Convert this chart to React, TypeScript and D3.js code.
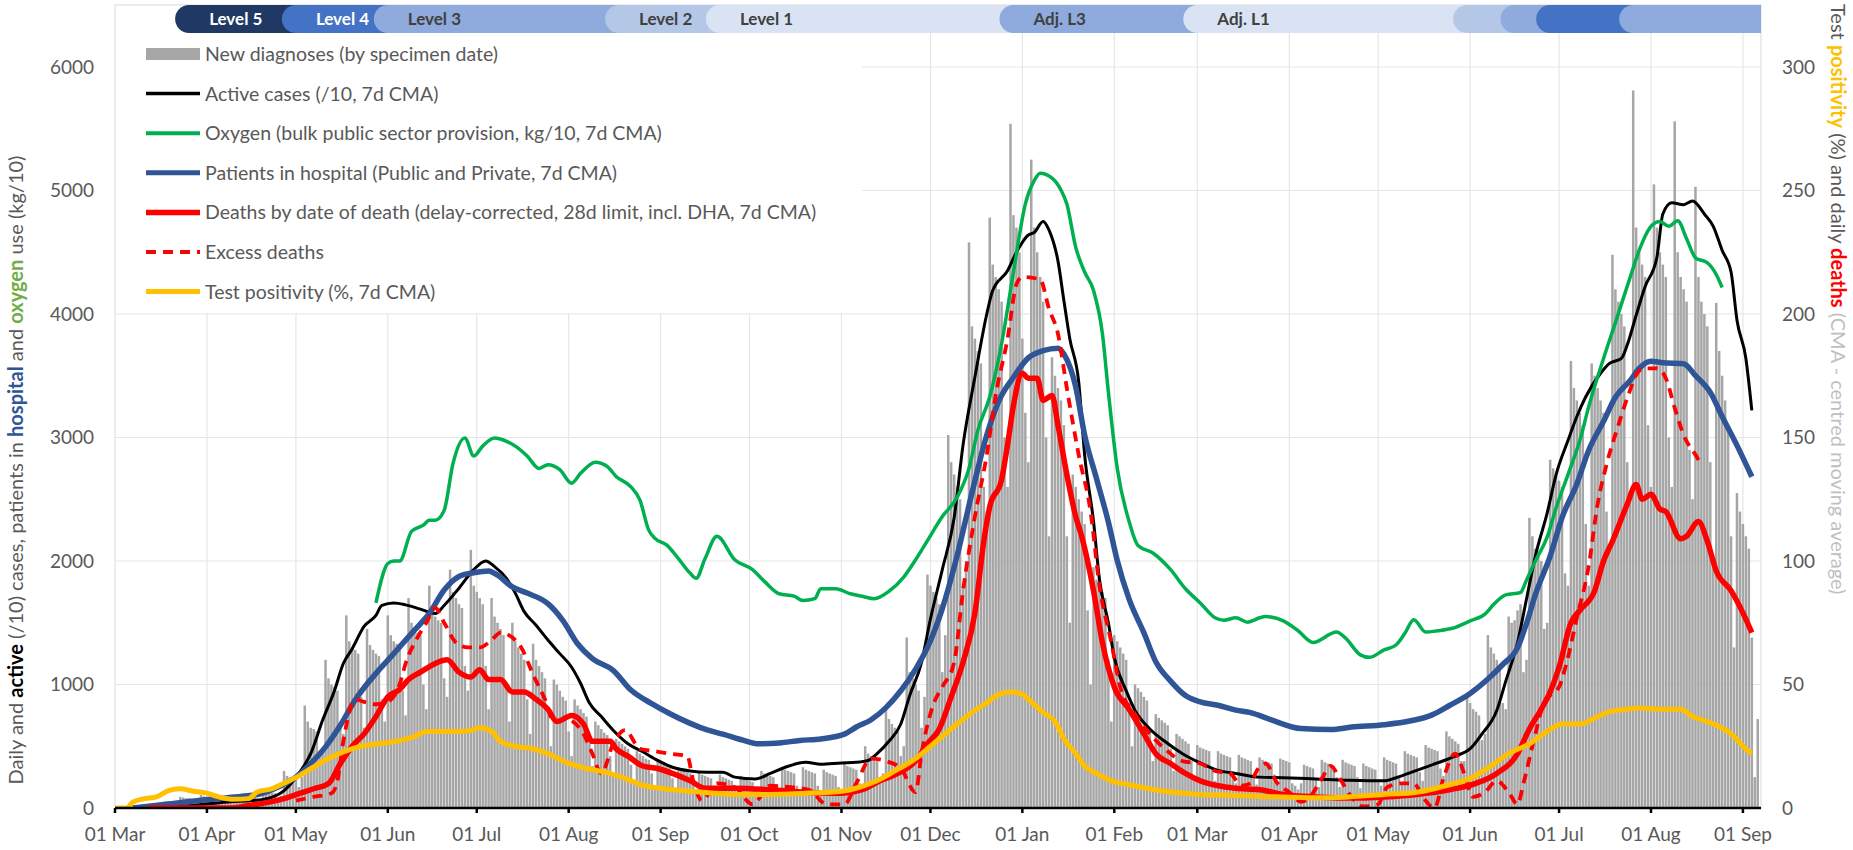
import React from "react";
import * as d3 from "d3";

// ---------- DATA ----------
// day index 0 = 2020-03-01
const START = Date.UTC(2020, 2, 1);
const DAY = 864e5;
const END_DAY = 555.1;

// New diagnoses by specimen date, one row per week (Sun..Sat), starting 2020-03-01
const casesWeeks: number[][] = [
  [0, 0, 0, 0, 2, 3, 6],
  [4, 12, 14, 16, 20, 24, 16],
  [15, 45, 50, 55, 55, 50, 35],
  [30, 90, 85, 80, 80, 75, 50],
  [40, 105, 95, 90, 85, 80, 55],
  [40, 95, 85, 80, 75, 70, 50],
  [50, 115, 100, 95, 95, 90, 60],
  [60, 150, 135, 130, 125, 120, 80],
  [100, 300, 260, 250, 250, 240, 170],
  [250, 830, 700, 650, 640, 620, 430],
  [450, 1200, 1050, 1000, 980, 950, 680],
  [600, 1560, 1350, 1300, 1280, 1250, 900],
  [650, 1450, 1320, 1280, 1250, 1230, 880],
  [700, 1560, 1400, 1350, 1330, 1300, 950],
  [750, 1700, 1500, 1450, 1420, 1400, 1000],
  [800, 1800, 1600, 1550, 1520, 1500, 1050],
  [900, 1930, 1750, 1700, 1650, 1620, 1150],
  [950, 2090, 1800, 1750, 1700, 1650, 1150],
  [800, 1700, 1550, 1500, 1450, 1400, 1000],
  [700, 1500, 1350, 1300, 1250, 1200, 880],
  [600, 1330, 1200, 1150, 1100, 1050, 780],
  [500, 1040, 1000, 950, 900, 870, 620],
  [420, 880, 830, 800, 770, 740, 530],
  [340, 700, 670, 640, 610, 590, 420],
  [270, 560, 540, 520, 500, 480, 350],
  [220, 460, 440, 420, 400, 390, 280],
  [180, 390, 370, 350, 340, 330, 240],
  [150, 330, 310, 300, 290, 280, 200],
  [120, 290, 270, 260, 250, 240, 170],
  [110, 270, 250, 240, 230, 220, 160],
  [100, 260, 240, 230, 220, 210, 150],
  [110, 300, 280, 270, 260, 250, 170],
  [120, 330, 310, 300, 290, 280, 180],
  [120, 330, 310, 300, 290, 280, 180],
  [110, 310, 290, 280, 270, 260, 170],
  [130, 360, 340, 330, 320, 310, 200],
  [170, 500, 440, 420, 400, 380, 250],
  [280, 800, 720, 680, 650, 620, 420],
  [500, 1380, 1100, 1050, 1000, 950, 650],
  [900, 1890, 1800, 1750, 1700, 1650, 1100],
  [1400, 3020, 2800, 2700, 2600, 2500, 1800],
  [2000, 4580, 3900, 3800, 3700, 3600, 2600],
  [2400, 4780, 4400, 4300, 4200, 4100, 3000],
  [2600, 5540, 4800, 4700, 4500, 3800, 3200],
  [2800, 5250, 4700, 4500, 4300, 4100, 3000],
  [2200, 3650, 3500, 3400, 3300, 3100, 2200],
  [1500, 2700, 2600, 2500, 2400, 2300, 1600],
  [1000, 1950, 1850, 1800, 1750, 1700, 1200],
  [700, 1400, 1350, 1300, 1250, 1200, 850],
  [500, 1000, 970, 940, 900, 870, 620],
  [380, 760, 730, 710, 690, 670, 480],
  [300, 600, 580, 560, 540, 520, 380],
  [250, 510, 490, 480, 470, 460, 330],
  [220, 460, 440, 430, 420, 410, 300],
  [200, 430, 410, 400, 390, 380, 280],
  [190, 410, 390, 380, 370, 360, 270],
  [190, 400, 390, 380, 370, 200, 180],
  [150, 200, 350, 340, 330, 320, 240],
  [170, 390, 370, 360, 350, 340, 250],
  [170, 390, 370, 360, 350, 340, 250],
  [160, 360, 340, 330, 320, 310, 230],
  [180, 410, 390, 380, 370, 360, 260],
  [200, 460, 440, 430, 420, 410, 290],
  [220, 510, 490, 480, 470, 460, 320],
  [260, 620, 580, 560, 540, 520, 380],
  [380, 900, 850, 800, 780, 750, 550],
  [600, 1400, 1300, 1250, 1200, 1150, 850],
  [800, 1550, 1500, 1520, 1600, 1650, 1100],
  [1200, 2350, 2200, 2100, 2050, 2000, 1450],
  [1500, 2820, 2750, 2700, 2650, 2600, 1900],
  [1800, 3620, 3400, 3300, 3200, 3100, 2300],
  [1800, 3600, 3500, 3400, 3300, 3200, 2400],
  [2100, 4480, 4200, 4100, 4000, 3900, 2800],
  [2500, 5810, 4700, 4500, 4400, 4300, 3100],
  [2600, 5050, 4700, 4500, 4400, 4300, 3000],
  [2600, 5560, 4500, 4300, 4200, 4100, 2900],
  [2500, 5030, 4300, 4100, 4000, 3900, 2800],
  [2000, 4090, 3700, 3500, 3300, 3100, 2200],
  [1300, 2550, 2400, 2300, 2200, 2100, 1380],
  [250, 720],
];

// [day index, value] — left axis units
const activePts: [number, number][] = [
  [8, 0], [20, 10], [30, 30], [39, 50], [46, 60], [52, 80], [57, 140], [62, 280], [66, 440], [70, 710], [74, 950], [77, 1170], [80, 1290], [84, 1470], [88, 1560], [90, 1640], [94, 1660], [98, 1645], [103, 1610], [108, 1575], [111, 1640], [116, 1780], [121, 1930], [125, 2000], [128, 1955], [132, 1860], [135, 1740], [138, 1590], [142, 1480], [146, 1360], [150, 1250], [154, 1140], [157, 1010], [160, 850], [164, 740], [168, 630], [173, 520], [178, 455], [183, 385], [188, 330], [194, 300], [200, 290], [205, 290], [209, 250], [216, 235], [221, 280], [226, 330], [233, 370], [238, 355], [245, 365], [250, 370], [254, 385], [257, 440], [261, 540], [265, 680], [268, 910], [272, 1180], [275, 1530], [279, 1930], [283, 2350], [286, 2940], [290, 3490], [294, 4000], [296, 4190], [301, 4350], [304, 4500], [308, 4640], [310, 4660], [313, 4750], [315, 4680], [318, 4430], [320, 4110], [322, 3800], [325, 3450], [327, 2860], [330, 2320], [332, 1850], [335, 1500], [337, 1220], [341, 950], [344, 790], [349, 640], [354, 540], [360, 440], [366, 365], [372, 305], [378, 280], [386, 250], [394, 245], [405, 235], [416, 225], [428, 220], [432, 245], [439, 305], [446, 365], [452, 420], [457, 480], [461, 600], [466, 790], [469, 1025], [473, 1340], [476, 1690], [479, 2040], [483, 2390], [486, 2700], [490, 2975], [493, 3170], [496, 3330], [501, 3520], [504, 3600], [508, 3640], [510, 3750], [513, 3990], [516, 4220], [520, 4460], [522, 4810], [525, 4900], [529, 4885], [532, 4915], [536, 4810], [539, 4710], [542, 4515], [545, 4340], [547, 3950], [550, 3640], [552, 3220],
];

const oxygenPts: [number, number][] = [
  [88, 1660], [92, 1980], [94, 2000], [96, 2000], [100, 2240], [104, 2290], [106, 2330], [108, 2330], [111, 2410], [114, 2790], [118, 2995], [121, 2850], [124, 2930], [128, 2995], [131, 2980], [135, 2930], [139, 2850], [143, 2750], [146, 2780], [150, 2740], [154, 2630], [157, 2710], [162, 2800], [166, 2765], [169, 2685], [174, 2600], [177, 2495], [180, 2250], [182, 2185], [186, 2130], [190, 2020], [194, 1900], [196, 1860], [199, 2020], [203, 2200], [209, 2010], [215, 1930], [219, 1835], [224, 1735], [229, 1715], [232, 1680], [236, 1695], [238, 1775], [243, 1775], [248, 1735], [252, 1715], [256, 1695], [261, 1755], [266, 1870], [270, 2010], [274, 2165], [279, 2360], [284, 2515], [288, 2750], [291, 3060], [295, 3330], [299, 3760], [303, 4340], [307, 4890], [310, 5080], [312, 5140], [316, 5100], [319, 5005], [321, 4890], [324, 4540], [327, 4340], [330, 4190], [333, 3840], [335, 3370], [338, 2750], [342, 2320], [345, 2125], [350, 2065], [356, 1930], [361, 1775], [366, 1660], [371, 1540], [374, 1520], [378, 1540], [382, 1505], [386, 1540], [388, 1550], [394, 1515], [399, 1435], [404, 1340], [412, 1425], [415, 1375], [420, 1240], [423, 1220], [428, 1280], [432, 1320], [435, 1415], [438, 1525], [442, 1425], [446, 1435], [451, 1455], [457, 1515], [462, 1570], [465, 1650], [469, 1725], [474, 1745], [476, 1845], [479, 2000], [483, 2195], [486, 2430], [490, 2700], [494, 2975], [497, 3250], [502, 3640], [506, 3930], [511, 4300], [514, 4515], [518, 4710], [521, 4750], [524, 4710], [527, 4755], [530, 4610], [533, 4455], [537, 4415], [540, 4320], [542, 4215],
];

const hospitalPts: [number, number][] = [
  [6, 0], [19, 35], [32, 70], [43, 95], [49, 115], [55, 170], [61, 250], [66, 360], [71, 495], [76, 670], [81, 875], [88, 1090], [94, 1250], [101, 1440], [106, 1575], [111, 1765], [116, 1875], [121, 1905], [126, 1920], [129, 1885], [134, 1790], [139, 1740], [146, 1655], [151, 1520], [156, 1330], [161, 1210], [168, 1115], [174, 955], [181, 845], [187, 765], [194, 685], [200, 630], [205, 598], [212, 547], [217, 520], [224, 527], [231, 547], [238, 559], [246, 598], [250, 656], [255, 715], [260, 813], [265, 949], [270, 1125], [274, 1300], [279, 1614], [284, 2043], [289, 2551], [294, 3020], [298, 3293], [303, 3488], [308, 3645], [313, 3703], [318, 3723], [320, 3676], [324, 3410], [327, 3020], [331, 2668], [335, 2316], [338, 2004], [342, 1691], [347, 1418], [351, 1184], [356, 1027], [361, 910], [366, 859], [372, 832], [378, 793], [383, 772], [390, 713], [400, 643], [410, 635], [417, 655], [428, 674], [437, 706], [444, 752], [450, 830], [457, 928], [463, 1045], [468, 1162], [473, 1298], [476, 1493], [479, 1727], [484, 2039], [488, 2351], [493, 2624], [497, 2897], [502, 3131], [506, 3326], [511, 3462], [514, 3559], [518, 3618], [522, 3606], [529, 3598], [533, 3501], [538, 3365], [542, 3170], [547, 2936], [552, 2682],
];

// right axis units (daily deaths)
const deathsPts: [number, number][] = [
  [11, 0], [39, 0], [45, 1], [52, 2.4], [57, 3.8], [62, 5.8], [67, 7.8], [72, 9.9], [76, 18], [80, 25], [84, 30], [88, 37], [92, 45], [96, 48], [99, 52], [103, 55], [108, 58.5], [112, 60], [116, 55], [120, 53], [123, 56], [126, 52], [130, 52], [134, 47], [138, 47], [142, 44], [146, 40], [149, 35], [154, 37.5], [158, 34], [161, 27], [167, 27], [169, 24], [173, 21], [178, 17], [183, 16], [188, 14], [194, 11], [199, 8], [204, 8], [209, 8], [221, 7.4], [233, 6.4], [245, 6], [252, 7.4], [258, 11], [264, 14], [270, 19], [274, 26], [278, 32], [282, 45], [286, 59], [290, 79], [293, 108], [295, 122], [299, 133], [301, 147], [303, 163], [306, 176], [308, 174], [311, 174], [313, 165], [316, 167], [318, 155], [321, 135], [324, 118], [326, 110], [330, 88], [333, 67], [337, 49], [342, 40], [347, 30], [351, 22], [356, 18], [361, 14], [366, 11], [372, 9], [378, 8], [386, 7.4], [394, 5.5], [405, 4.5], [417, 4], [428, 4.5], [439, 5.5], [450, 7.4], [459, 10], [466, 14], [473, 22], [477, 32], [481, 40], [484, 47], [487, 57], [491, 75], [494, 80], [499, 88], [502, 100], [505, 108], [510, 123], [513, 131], [515, 125], [518, 127], [521, 121], [523, 120], [528, 109], [530, 110], [534, 116], [537, 108], [540, 96], [545, 88], [549, 79], [552, 71],
];

const excessPts: [number, number][] = [
  [61, 3], [67, 4.5], [73, 6], [75, 11], [77, 27], [81, 44], [84, 43], [88, 42], [92, 43], [96, 50], [98, 58.5], [102, 69], [105, 75], [108, 81], [111, 75], [115, 67], [119, 65], [123, 65], [127, 68], [130, 71], [134, 69], [137, 65], [141, 54], [145, 44], [148, 35], [152, 36], [158, 30], [161, 22], [164, 14], [168, 26], [172, 31.5], [177, 24], [182, 23], [187, 22], [193, 21], [195, 11], [198, 3], [203, 10], [209, 8.4], [215, 1.5], [221, 9], [228, 8.4], [234, 7.4], [240, 1.5], [246, 1.5], [250, 10], [255, 20], [260, 19], [265, 16], [270, 6.4], [272, 22], [276, 42], [279, 49], [283, 59], [286, 88], [290, 118], [294, 143], [297, 167], [301, 190], [304, 212], [306, 215], [312, 214], [315, 202], [318, 192], [321, 170], [325, 143], [329, 120], [332, 90], [336, 67], [339, 49], [344, 38], [349, 30], [354, 24], [360, 19], [366, 18], [371, 15], [376, 14], [380, 9], [383, 10], [385, 15], [388, 18], [392, 10], [396, 6.4], [400, 2.5], [403, 4.5], [407, 12], [410, 17], [413, 12], [417, 4.5], [421, 0.6], [426, 1.5], [429, 8.4], [434, 10], [438, 10], [441, 4.5], [445, 0], [448, 12], [452, 22], [455, 14], [458, 4.5], [462, 6.4], [466, 11], [470, 6.4], [473, 1.5], [475, 10], [479, 30], [482, 43], [487, 49], [490, 61], [493, 77], [497, 98], [500, 123], [503, 139], [507, 155], [510, 166], [514, 177], [516, 178], [520, 178], [523, 174], [526, 162], [529, 151], [533, 143], [535, 139],
];

// test positivity (%), right axis
const positivityPts: [number, number][] = [
  [0, 0], [4, 0], [6, 2.4], [10, 3.8], [14, 4.5], [18, 7], [22, 7.8], [26, 6.9], [31, 6], [35, 4.5], [40, 3.5], [45, 3.8], [48, 6.5], [53, 7.8], [57, 10], [62, 13], [67, 16.6], [72, 20], [77, 22.7], [83, 25], [89, 26], [95, 27], [101, 29], [105, 31], [110, 31], [116, 31], [120, 31.5], [123, 32.5], [127, 31], [130, 27], [135, 25], [141, 24], [146, 22], [152, 18.6], [159, 16], [165, 14.6], [172, 12], [178, 9.2], [185, 7.8], [191, 7.1], [198, 6.4], [209, 5.5], [221, 5.5], [233, 6], [245, 6.8], [251, 8.4], [257, 11], [263, 15], [270, 20], [274, 24], [279, 29], [284, 34], [289, 38.7], [294, 42.6], [298, 46], [302, 47], [306, 46], [309, 43], [313, 38.7], [317, 35], [320, 28], [324, 22], [327, 17], [331, 14], [336, 11], [342, 9.4], [348, 8], [354, 6.8], [366, 5.5], [378, 5.1], [386, 4.7], [394, 4.5], [405, 4.1], [416, 4.5], [428, 5.5], [439, 6.4], [450, 9.4], [457, 12], [464, 17], [470, 22], [477, 26], [483, 31], [488, 34], [494, 34], [500, 37], [504, 39], [510, 40], [514, 40.5], [521, 40], [528, 40], [532, 37], [537, 35], [541, 33], [546, 29], [549, 25], [552, 22],
];

// lockdown levels
const levelStarts = ["2020-03-26", "2020-05-01", "2020-06-01", "2020-08-18", "2020-09-21", "2020-12-29", "2021-03-01", "2021-05-31", "2021-06-16", "2021-06-28", "2021-07-26"];
const levelLabels = ["Level 5", "Level 4", "Level 3", "Level 2", "Level 1", "Adj. L3", "Adj. L1", "", "", "", ""];
const levelColors = ["#203864", "#4472c4", "#8faadc", "#b4c7e7", "#dae3f3", "#8faadc", "#dae3f3", "#b4c7e7", "#8faadc", "#4472c4", "#8faadc"];
const levelText = ["#ffffff", "#ffffff", "#404040", "#404040", "#404040", "#404040", "#404040", "#404040", "#404040", "#404040", "#404040"];

const leftTicks = [0, 1000, 2000, 3000, 4000, 5000, 6000];
const rightTicks = [0, 50, 100, 150, 200, 250, 300];

const legendLabels = [
  "New diagnoses (by specimen date)",
  "Active cases (/10, 7d CMA)",
  "Oxygen (bulk public sector provision, kg/10, 7d CMA)",
  "Patients in hospital (Public and Private, 7d CMA)",
  "Deaths by date of death (delay-corrected, 28d limit, incl. DHA, 7d CMA)",
  "Excess deaths",
  "Test positivity (%, 7d CMA)",
];

// ---------- LAYOUT ----------
const W = 1853, H = 850;
const PL = 115, PR = 1761, PT = 5, PB = 808;
const FONT = "Lato, 'Liberation Sans', sans-serif";
const TXT = "#595959";

const dayDate = (d: number) => new Date(START + d * DAY);

export default function App() {
  const x = d3.scaleUtc().domain([dayDate(0), dayDate(END_DAY)]).range([PL, PR]);
  const yL = d3.scaleLinear().domain([0, 6000]).range([PB, 67]);
  const yR = d3.scaleLinear().domain([0, 300]).range([PB, 67]);

  const cases = casesWeeks.flat();
  const months = d3.utcMonth.range(dayDate(0), dayDate(END_DAY));
  const fmt = d3.utcFormat("%d %b");

  const lineL = d3.line<[number, number]>().x((p) => x(dayDate(p[0]))).y((p) => yL(p[1])).curve(d3.curveMonotoneX);
  const lineR = d3.line<[number, number]>().x((p) => x(dayDate(p[0]))).y((p) => yR(p[1])).curve(d3.curveMonotoneX);

  const bw = 2.5;
  const r = 14, bTop = 5, bBot = 33;
  const legY = (i: number) => 54 + 39.6 * i;

  return (
    <svg width={W} height={H} style={{ position: "absolute", left: 0, top: 0, background: "#fff" }} fontFamily={FONT}>
      <defs>
        <clipPath id="plot"><rect x={PL} y={PT} width={PR - PL} height={PB - PT} /></clipPath>
      </defs>
      <rect x={0} y={0} width={W} height={H} fill="#fff" />
      {/* gridlines */}
      {leftTicks.slice(1).map((v) => (
        <line key={"h" + v} x1={PL} x2={PR} y1={yL(v)} y2={yL(v)} stroke="#e6e6e6" strokeWidth={1.2} />
      ))}
      {months.slice(1).map((m) => (
        <line key={"v" + m.getTime()} x1={x(m)} x2={x(m)} y1={PT} y2={PB} stroke="#e6e6e6" strokeWidth={1.2} />
      ))}
      <rect x={PL} y={PT} width={PR - PL} height={PB - PT} fill="none" stroke="#e0e0e0" strokeWidth={1.2} />
      {/* legend background */}
      <rect x={PL + 1} y={33} width={861 - PL} height={313 - 33} fill="#fff" />

      <g clipPath="url(#plot)">
        {cases.map((v, i) => (
          <rect key={"b" + i} x={x(dayDate(i)) - bw / 2} y={yL(v)} width={bw} height={PB - yL(v)} fill="#a6a6a6" />
        ))}
        <path d={lineL(activePts) || ""} fill="none" stroke="#000" strokeWidth={3} strokeLinejoin="round" />
        <path d={lineL(oxygenPts) || ""} fill="none" stroke="#00b050" strokeWidth={3.5} strokeLinejoin="round" />
        <path d={lineL(hospitalPts) || ""} fill="none" stroke="#2f5597" strokeWidth={5.5} strokeLinejoin="round" />
        <path d={lineR(deathsPts) || ""} fill="none" stroke="#ff0000" strokeWidth={5.5} strokeLinejoin="round" />
        <path d={lineR(excessPts) || ""} fill="none" stroke="#ff0000" strokeWidth={3.8} strokeDasharray="10 7" />
        <path d={lineR(positivityPts) || ""} fill="none" stroke="#ffc000" strokeWidth={5} strokeLinejoin="round" />
      </g>

      {/* level bar */}
      {levelStarts.map((s, i) => {
        const x0 = x(new Date(s + "T00:00:00Z")) - r;
        const d = `M${x0 + r},${bTop} H${PR} V${bBot} H${x0 + r} A${r},${r} 0 0 1 ${x0 + r},${bTop} Z`;
        return <path key={"lv" + i} d={d} fill={levelColors[i]} />;
      })}
      {levelStarts.map((s, i) =>
        levelLabels[i] ? (
          <text key={"lt" + i} x={x(new Date(s + "T00:00:00Z")) + 20} y={25} fontSize={17} fontWeight="bold" fill={levelText[i]}>
            {levelLabels[i]}
          </text>
        ) : null
      )}

      {/* x axis */}
      <line x1={PL} x2={PR} y1={PB} y2={PB} stroke="#000" strokeWidth={2.5} />
      {months.map((m) => (
        <g key={"t" + m.getTime()}>
          <line x1={x(m)} x2={x(m)} y1={PB} y2={PB + 5} stroke="#000" strokeWidth={2.5} />
          <text x={x(m)} y={841} textAnchor="middle" fontSize={19} fill={TXT}>{fmt(m)}</text>
        </g>
      ))}
      {/* y axes */}
      {leftTicks.map((v) => (
        <text key={"yl" + v} x={94} y={yL(v) + 6.5} textAnchor="end" fontSize={19} fill={TXT}>{v}</text>
      ))}
      {rightTicks.map((v) => (
        <text key={"yr" + v} x={1782} y={yR(v) + 6.5} textAnchor="start" fontSize={19} fill={TXT}>{v}</text>
      ))}

      {/* axis titles */}
      <text transform="translate(23,470) rotate(-90)" textAnchor="middle" fontSize={20} fill={TXT}>
        <tspan>{"Daily and "}</tspan>
        <tspan fontWeight="bold" fill="#000">active</tspan>
        <tspan>{" (/10) cases, patients in "}</tspan>
        <tspan fontWeight="bold" fill="#2f5597">hospital</tspan>
        <tspan>{" and "}</tspan>
        <tspan fontWeight="bold" fill="#70ad47">oxygen</tspan>
        <tspan>{" use (kg/10)"}</tspan>
      </text>
      <text transform="translate(1831,4) rotate(90)" textAnchor="start" fontSize={20} fill={TXT}>
        <tspan>{"Test "}</tspan>
        <tspan fontWeight="bold" fill="#ffc000">positivity</tspan>
        <tspan>{" (%) and daily "}</tspan>
        <tspan fontWeight="bold" fill="#ff0000">deaths</tspan>
        <tspan fill="#bfbfbf">{" (CMA - centred moving average)"}</tspan>
      </text>

      {/* legend */}
      <g>
        <rect x={146} y={legY(0) - 6} width={54} height={12} fill="#a6a6a6" />
        <line x1={146} x2={200} y1={legY(1)} y2={legY(1)} stroke="#000" strokeWidth={3.5} />
        <line x1={146} x2={200} y1={legY(2)} y2={legY(2)} stroke="#00b050" strokeWidth={4} />
        <line x1={146} x2={200} y1={legY(3)} y2={legY(3)} stroke="#2f5597" strokeWidth={5} />
        <line x1={146} x2={200} y1={legY(4)} y2={legY(4)} stroke="#ff0000" strokeWidth={5.5} />
        <line x1={146} x2={200} y1={legY(5)} y2={legY(5)} stroke="#ff0000" strokeWidth={4} strokeDasharray="10 7" />
        <line x1={146} x2={200} y1={legY(6)} y2={legY(6)} stroke="#ffc000" strokeWidth={5} />
        {legendLabels.map((t, i) => (
          <text key={"lg" + i} x={205} y={legY(i) + 7} fontSize={19.5} fill={TXT}>{t}</text>
        ))}
      </g>
    </svg>
  );
}
